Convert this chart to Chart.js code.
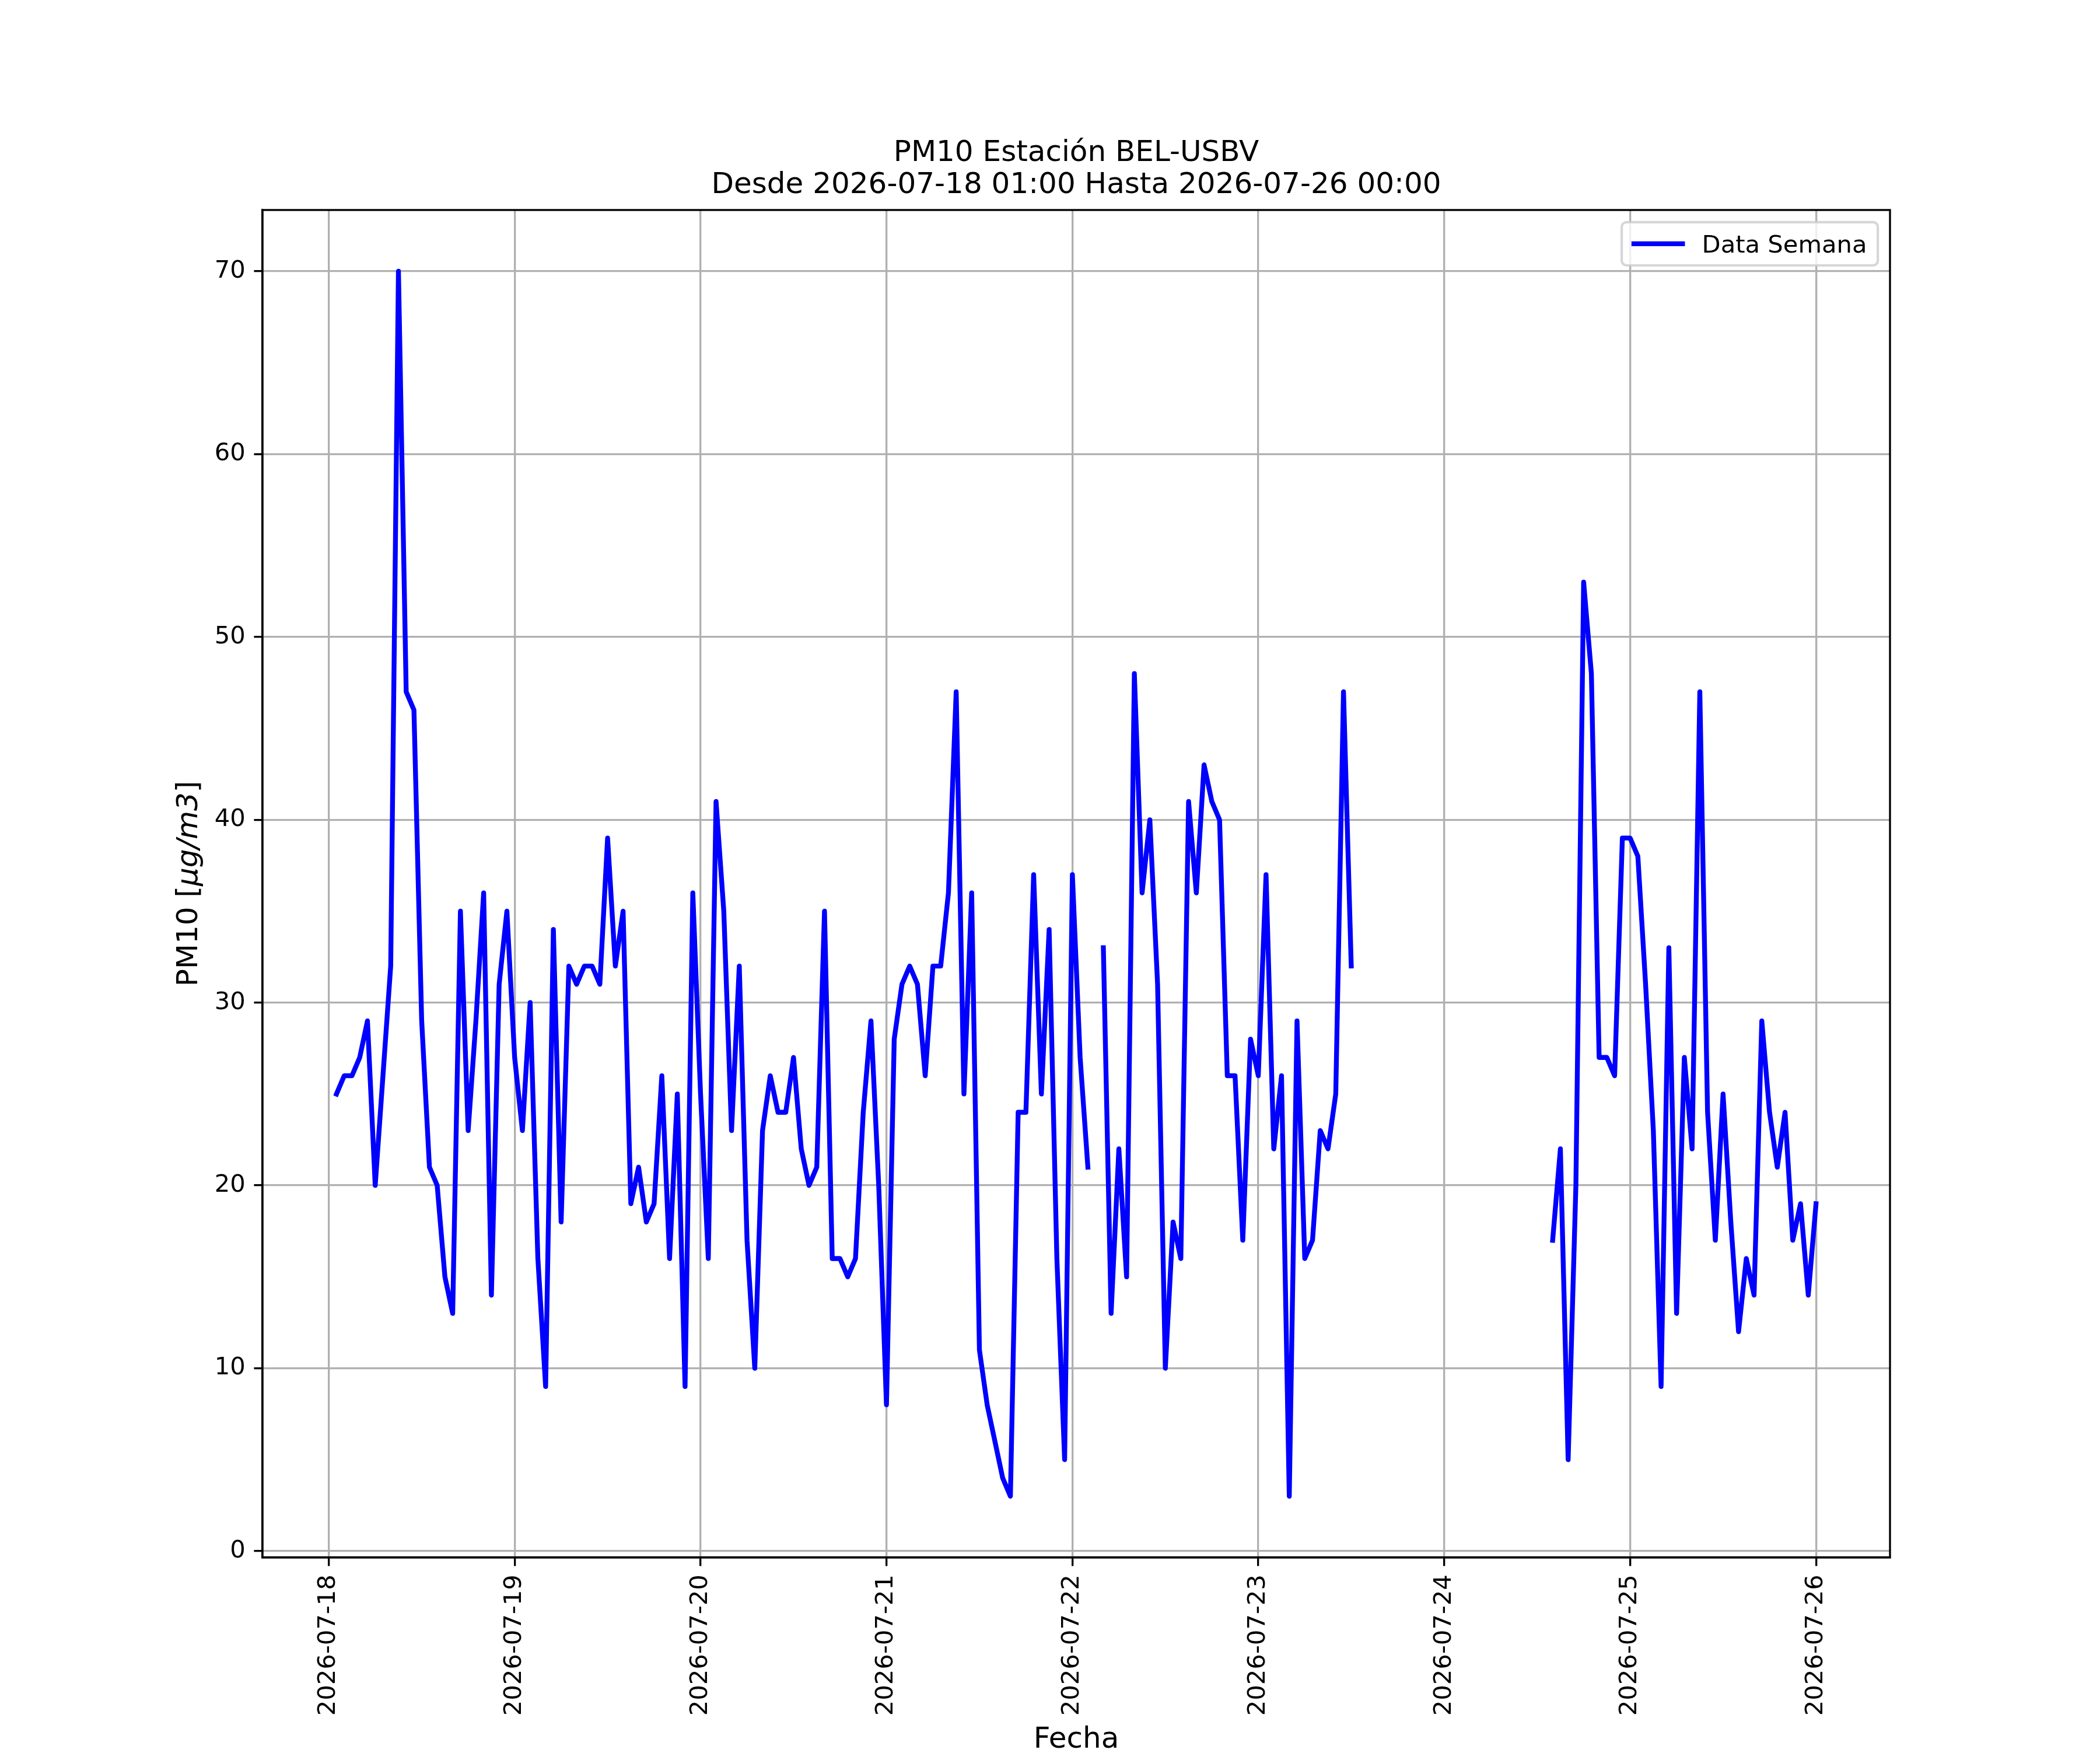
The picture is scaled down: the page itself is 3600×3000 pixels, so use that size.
<!DOCTYPE html>
<html>
<head>
<meta charset="utf-8">
<script src="https://cdn.jsdelivr.net/npm/chart.js@4.4.1/dist/chart.umd.min.js"></script>
<style>
  html, body { margin: 0; padding: 0; background: #ffffff; }
  canvas { display: block; }
</style>
</head>
<body>
<canvas id="c" width="3600" height="3000" style="width:3600px;height:3000px"></canvas>
<script>
// ---------------- DATA ----------------
const titleLines = ['PM10 Estación BEL-USBV', 'Desde 2026-07-18 01:00 Hasta 2026-07-26 00:00'];
const seriesLabel = 'Data Semana';
const xAxisTitle = 'Fecha';
const yAxisTitleParts = [['PM10 [', false], ['μg/m3', true], [']', false]];

// tick labels, one per day (hours since 2026-07-18 00:00 = index * 24)
const tickLabels = ['2026-07-18', '2026-07-19', '2026-07-20', '2026-07-21', '2026-07-22',
                    '2026-07-23', '2026-07-24', '2026-07-25', '2026-07-26'];
const yTicks = [0, 10, 20, 30, 40, 50, 60, 70];

// hourly PM10 values starting 2026-07-18 01:00 (null = missing)
const day18 = [25, 26, 26, 27, 29, 20, 26, 32, 70, 47, 46, 29, 21, 20, 15, 13, 35, 23, 29, 36, 14, 31, 35, 27];
const day19 = [23, 30, 16, 9, 34, 18, 32, 31, 32, 32, 31, 39, 32, 35, 19, 21, 18, 19, 26, 16, 25, 9, 36, 25];
const day20 = [16, 41, 35, 23, 32, 17, 10, 23, 26, 24, 24, 27, 22, 20, 21, 35, 16, 16, 15, 16, 24, 29, 20, 8];
const day21 = [28, 31, 32, 31, 26, 32, 32, 36, 47, 25, 36, 11, 8, 6, 4, 3, 24, 24, 37, 25, 34, 16, 5, 37];
const day22 = [27, 21, null, 33, 13, 22, 15, 48, 36, 40, 31, 10, 18, 16, 41, 36, 43, 41, 40, 26, 26, 17, 28, 26];
const day23 = [37, 22, 26, 3, 29, 16, 17, 23, 22, 25, 47, 32, null, null, null, null, null, null, null, null, null, null, null, null];
const day24 = [null, null, null, null, null, null, null, null, null, null, null, null, null, 17, 22, 5, 20, 53, 48, 27, 27, 26, 39, 39];
const day25 = [38, 31, 23, 9, 33, 13, 27, 22, 47, 24, 17, 25, 18, 12, 16, 14, 29, 24, 21, 24, 17, 19, 14, 19];
const pm10 = [].concat(day18, day19, day20, day21, day22, day23, day24, day25);
const firstHour = 1; // first sample is 01:00 on 2026-07-18

// ---------------- STYLE ----------------
const PT = 300 / 72;               // matplotlib points -> px at 300 dpi
const FONT = 'DejaVu Sans';
const tickFont = 10 * PT;
const labelFont = 12 * PT;
const xMin = firstHour - 0.05 * (pm10.length - 1);
const xMax = firstHour + (pm10.length - 1) * 1.05;
const yMinData = 3, yMaxData = 70;
const yPad = 0.05 * (yMaxData - yMinData);

const points = pm10.map((v, i) => ({ x: firstHour + i, y: v }));

const framePlugin = {
  id: 'frame',
  afterDatasetsDraw(chart) {
    const { ctx, chartArea: a } = chart;
    ctx.save();
    ctx.strokeStyle = '#000000';
    ctx.lineWidth = 0.8 * PT;
    ctx.strokeRect(a.left, a.top, a.right - a.left, a.bottom - a.top);
    ctx.restore();
  },
  afterDraw(chart) {
    const { ctx, chartArea: a } = chart;
    ctx.save();
    // ---- legend (upper right, inside axes) ----
    const fs = tickFont;
    const pad = 0.5 * fs;
    ctx.font = fs + 'px "' + FONT + '"';
    const tw = ctx.measureText(seriesLabel).width;
    const boxR = a.right - pad;
    const boxT = a.top + pad;
    const boxW = 0.4 * fs + 2 * fs + 0.8 * fs + tw + 0.4 * fs + 0.15 * fs;
    const boxH = 1.78 * fs;
    const boxL = boxR - boxW;
    ctx.beginPath();
    ctx.roundRect(boxL, boxT, boxW, boxH, 0.2 * fs);
    ctx.fillStyle = 'rgba(255,255,255,0.8)';
    ctx.fill();
    ctx.lineWidth = 1.0 * PT;
    ctx.strokeStyle = 'rgba(204,204,204,0.8)';
    ctx.stroke();
    const midY = boxT + boxH / 2;
    const hx0 = boxL + 0.4 * fs + 0.1 * fs;
    const hx1 = hx0 + 2 * fs;
    ctx.beginPath();
    ctx.moveTo(hx0, midY);
    ctx.lineTo(hx1, midY);
    ctx.strokeStyle = chart.data.datasets[0].borderColor;
    ctx.lineWidth = chart.data.datasets[0].borderWidth;
    ctx.lineCap = 'square';
    ctx.stroke();
    ctx.fillStyle = '#000000';
    ctx.textAlign = 'left';
    ctx.textBaseline = 'alphabetic';
    ctx.fillText(seriesLabel, hx1 + 0.8 * fs, midY + 0.36 * fs);

    // ---- x axis title ----
    ctx.font = labelFont + 'px "' + FONT + '"';
    ctx.textAlign = 'center';
    ctx.fillText(xAxisTitle, (a.left + a.right) / 2, 2996);

    // ---- y axis title (rotated, with italic part) ----
    const widths = yAxisTitleParts.map(([t, it]) => {
      ctx.font = (it ? 'italic ' : '') + labelFont + 'px "' + FONT + '"';
      return ctx.measureText(t).width;
    });
    const total = widths.reduce((s, w) => s + w, 0);
    ctx.translate(338, (a.top + a.bottom) / 2);
    ctx.rotate(-Math.PI / 2);
    ctx.textAlign = 'left';
    let x = -total / 2;
    yAxisTitleParts.forEach(([t, it], i) => {
      ctx.font = (it ? 'italic ' : '') + labelFont + 'px "' + FONT + '"';
      ctx.fillText(t, x, 0);
      x += widths[i];
    });
    ctx.restore();
  }
};

const gridCommon = {
  color: '#b0b0b0',
  lineWidth: 0.8 * PT,
  tickLength: 3.5 * PT,
  tickColor: '#000000',
  tickWidth: 0.8 * PT,
  drawTicks: true
};

new Chart(document.getElementById('c'), {
  type: 'line',
  data: {
    datasets: [{
      label: seriesLabel,
      data: points,
      borderColor: '#0000ff',
      backgroundColor: '#0000ff',
      borderWidth: 2 * PT,
      pointRadius: 0,
      pointHoverRadius: 0,
      fill: false,
      tension: 0,
      spanGaps: false,
      borderJoinStyle: 'round',
      borderCapStyle: 'square'
    }]
  },
  options: {
    responsive: false,
    devicePixelRatio: 1,
    animation: false,
    events: [],
    layout: { padding: { left: 0, right: 360, top: 0, bottom: 0 } },
    plugins: {
      legend: { display: false },
      tooltip: { enabled: false },
      title: {
        display: true,
        fullSize: false,
        text: titleLines,
        color: '#000000',
        font: { family: FONT, size: labelFont, weight: 'normal', lineHeight: 1.1 },
        padding: { top: 235.5, bottom: 14.5 }
      }
    },
    scales: {
      x: {
        type: 'linear',
        position: 'bottom',
        min: xMin,
        max: xMax,
        afterBuildTicks: (s) => { s.ticks = tickLabels.map((_, i) => ({ value: i * 24 })); },
        afterFit: (s) => { s.height = 3000 - 2670; },
        ticks: {
          autoSkip: false,
          maxRotation: 90,
          minRotation: 90,
          padding: 3.5 * PT,
          color: '#000000',
          font: { family: FONT, size: tickFont },
          callback: (v) => tickLabels[Math.round(v / 24)]
        },
        grid: gridCommon,
        border: { display: true, color: '#000000', width: 0.8 * PT }
      },
      y: {
        type: 'linear',
        min: yMinData - yPad,
        max: yMaxData + yPad,
        afterBuildTicks: (s) => { s.ticks = yTicks.map(v => ({ value: v })); },
        afterFit: (s) => { s.width = 450; },
        ticks: {
          padding: 3.5 * PT,
          color: '#000000',
          font: { family: FONT, size: tickFont },
          callback: (v) => String(v)
        },
        grid: gridCommon,
        border: { display: true, color: '#000000', width: 0.8 * PT }
      }
    }
  },
  plugins: [framePlugin]
});
</script>
</body>
</html>
